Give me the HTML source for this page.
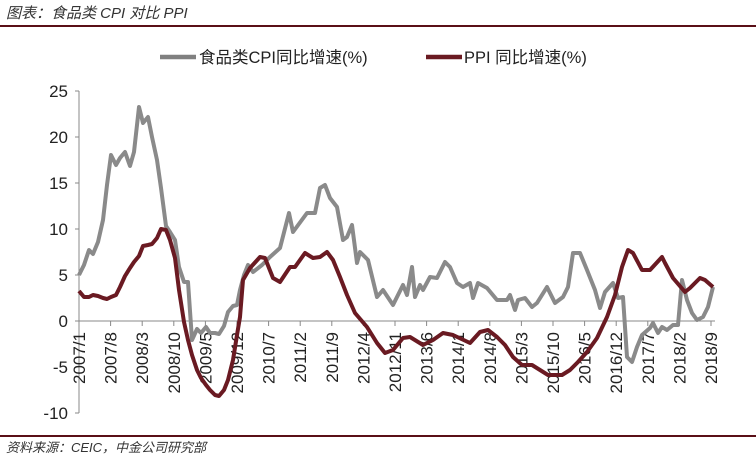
<!DOCTYPE html>
<html><head><meta charset="utf-8"><style>
html,body{margin:0;padding:0;background:#fff;}
svg{display:block;}
</style></head><body>
<svg width="756" height="459" viewBox="0 0 756 459" xmlns="http://www.w3.org/2000/svg" font-family="Liberation Sans, Noto Sans CJK SC, sans-serif">
<rect width="756" height="459" fill="#fff"/>
<text x="6" y="18" font-size="15" font-style="italic" fill="#333">图表：食品类 CPI 对比 PPI</text>
<line x1="0" y1="26" x2="756" y2="26" stroke="#5a0f17" stroke-width="2"/>
<line x1="0" y1="436" x2="756" y2="436" stroke="#5a0f17" stroke-width="2"/>
<text x="6" y="452" font-size="13" font-style="italic" fill="#333">资料来源：CEIC，中金公司研究部</text>
<line x1="160" y1="57" x2="196" y2="57" stroke="#808080" stroke-width="4.5"/>
<text x="199" y="63" font-size="16.5" fill="#222">食品类CPI同比增速(%)</text>
<line x1="426" y1="57" x2="462" y2="57" stroke="#6a1a22" stroke-width="4.5"/>
<text x="464" y="63" font-size="16.5" fill="#222">PPI 同比增速(%)</text>
<g stroke="#888" stroke-width="1" fill="none">
<line x1="79" y1="91" x2="79" y2="413"/>
<line x1="75" y1="91" x2="79" y2="91"/><line x1="75" y1="137" x2="79" y2="137"/><line x1="75" y1="183" x2="79" y2="183"/><line x1="75" y1="229" x2="79" y2="229"/><line x1="75" y1="275" x2="79" y2="275"/><line x1="75" y1="321" x2="79" y2="321"/><line x1="75" y1="367" x2="79" y2="367"/><line x1="75" y1="413" x2="79" y2="413"/>
<line x1="79" y1="321" x2="715" y2="321"/>
</g>
<g font-size="17" fill="#222" text-anchor="end">
<text x="68" y="97">25</text><text x="68" y="143">20</text><text x="68" y="189">15</text><text x="68" y="235">10</text><text x="68" y="281">5</text><text x="68" y="327">0</text><text x="68" y="373">-5</text><text x="68" y="419">-10</text>
</g>
<g stroke="#888" stroke-width="1">
<line x1="79" y1="321" x2="79" y2="326"/><line x1="110.6" y1="321" x2="110.6" y2="326"/><line x1="142.2" y1="321" x2="142.2" y2="326"/><line x1="173.8" y1="321" x2="173.8" y2="326"/><line x1="205.4" y1="321" x2="205.4" y2="326"/><line x1="237" y1="321" x2="237" y2="326"/><line x1="268.6" y1="321" x2="268.6" y2="326"/><line x1="300.2" y1="321" x2="300.2" y2="326"/><line x1="331.8" y1="321" x2="331.8" y2="326"/><line x1="363.4" y1="321" x2="363.4" y2="326"/><line x1="395" y1="321" x2="395" y2="326"/><line x1="426.6" y1="321" x2="426.6" y2="326"/><line x1="458.2" y1="321" x2="458.2" y2="326"/><line x1="489.8" y1="321" x2="489.8" y2="326"/><line x1="521.4" y1="321" x2="521.4" y2="326"/><line x1="553" y1="321" x2="553" y2="326"/><line x1="584.6" y1="321" x2="584.6" y2="326"/><line x1="616.2" y1="321" x2="616.2" y2="326"/><line x1="647.8" y1="321" x2="647.8" y2="326"/><line x1="679.4" y1="321" x2="679.4" y2="326"/><line x1="711" y1="321" x2="711" y2="326"/>
</g>
<g font-size="17" fill="#222" text-anchor="end">
<text transform="translate(85,332) rotate(-90)">2007/1</text>
<text transform="translate(116.6,332) rotate(-90)">2007/8</text>
<text transform="translate(148.2,332) rotate(-90)">2008/3</text>
<text transform="translate(179.8,332) rotate(-90)">2008/10</text>
<text transform="translate(211.4,332) rotate(-90)">2009/5</text>
<text transform="translate(243,332) rotate(-90)">2009/12</text>
<text transform="translate(274.6,332) rotate(-90)">2010/7</text>
<text transform="translate(306.2,332) rotate(-90)">2011/2</text>
<text transform="translate(337.8,332) rotate(-90)">2011/9</text>
<text transform="translate(369.4,332) rotate(-90)">2012/4</text>
<text transform="translate(401,332) rotate(-90)">2012/11</text>
<text transform="translate(432.6,332) rotate(-90)">2013/6</text>
<text transform="translate(464.2,332) rotate(-90)">2014/1</text>
<text transform="translate(495.8,332) rotate(-90)">2014/8</text>
<text transform="translate(527.4,332) rotate(-90)">2015/3</text>
<text transform="translate(559,332) rotate(-90)">2015/10</text>
<text transform="translate(590.6,332) rotate(-90)">2016/5</text>
<text transform="translate(622.2,332) rotate(-90)">2016/12</text>
<text transform="translate(653.8,332) rotate(-90)">2017/7</text>
<text transform="translate(685.4,332) rotate(-90)">2018/2</text>
<text transform="translate(717,332) rotate(-90)">2018/9</text>
</g>
<polyline fill="none" stroke="#8a8a8a" stroke-width="4" stroke-linejoin="round" points="79,275 84,265 89,250 93,254 98,242 103,220 107,185 111,155 116,165 120,158 125,152 130,166 134,152 139,107 143,123 148,117 152,137 157,160 161,188 166,226 170,232 175,240 179,267 184,282 188,282 192,340 197,329 201,333 206,327 210,333 215,333 219,334 224,326 228,312 233,306 237,305 240,290 244,275 248,265 253,272 262,265 270,257 280,248 289,213 293,232 307,213 315,213 320,188 325,185 330,198 337,207 343,240 347,237 352,225 357,263 360,252 368,260 377,297 383,290 393,305 403,285 407,295 412,267 415,297 420,285 423,290 430,277 437,278 445,262 450,267 457,283 463,287 470,283 473,298 478,283 487,288 497,300 507,300 510,295 515,310 518,300 525,298 532,307 537,303 547,287 555,303 563,297 568,287 573,253 580,253 587,270 595,290 600,308 605,292 613,283 618,298 623,297 627,357 632,362 637,347 642,335 650,328 653,323 658,333 662,327 667,330 673,325 678,325 682,280 687,300 692,313 697,320 703,317 708,307 713,287"/>
<polyline fill="none" stroke="#6a1a22" stroke-width="4" stroke-linejoin="round" points="79,291 84,297 89,297 93,295 98,296 103,298 107,299 111,297 116,295 120,287 125,276 130,268 134,262 139,256 143,246 148,245 152,244 157,238 161,229 166,230 170,240 175,258 179,290 184,322 188,340 192,355 197,370 201,378 206,385 210,390 215,395 219,396 224,390 228,380 233,360 237,335 240,317 243,280 250,268 260,257 265,258 273,278 280,282 290,267 295,267 305,253 313,258 320,257 327,252 333,260 340,277 347,295 355,313 367,327 377,343 385,353 393,350 403,338 410,337 423,345 433,340 443,333 453,335 470,343 480,332 488,330 497,337 505,345 513,357 522,365 532,365 540,370 548,375 562,375 570,370 578,362 587,352 597,338 607,317 615,295 622,267 628,250 633,253 642,270 650,270 662,257 665,263 673,278 685,292 690,288 700,278 705,280 713,287"/>
</svg>
</body></html>
